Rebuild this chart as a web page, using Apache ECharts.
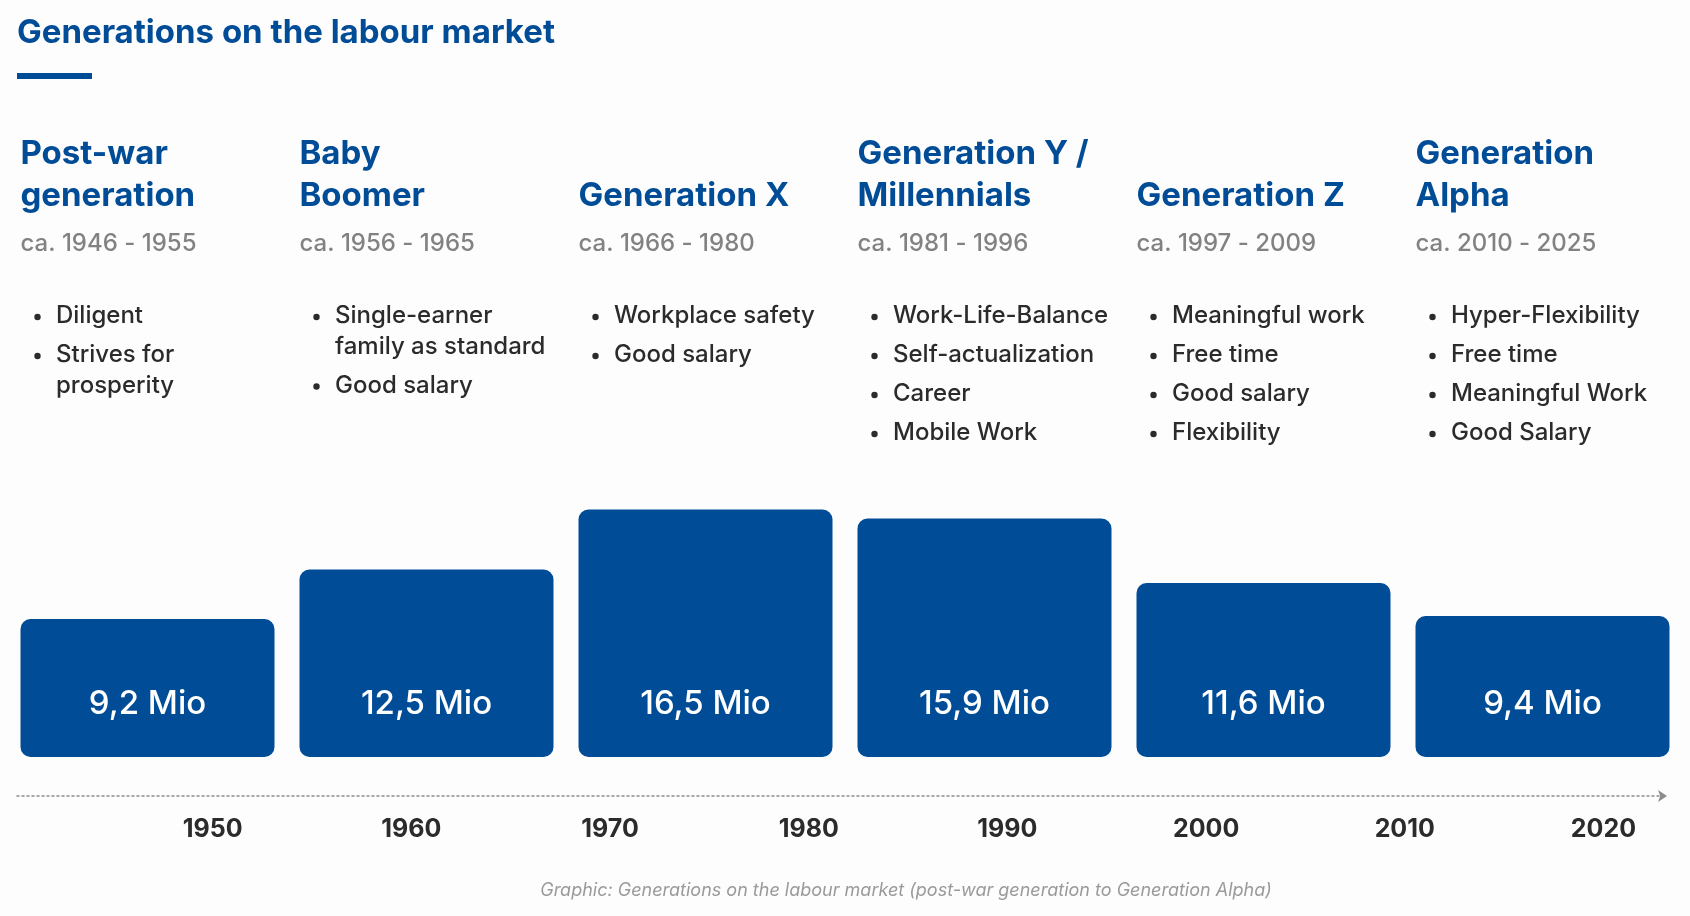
<!DOCTYPE html>
<html>
<head>
<meta charset="utf-8">
<title>Generations on the labour market</title>
<script src="https://cdn.jsdelivr.net/npm/echarts@6.0.0/dist/echarts.min.js"></script>
<style>
  html, body { margin: 0; padding: 0; background: #fdfdfd; }
  #chart { width: 1690px; height: 916px; }
</style>
</head>
<body>
<div id="chart"></div>
<script>
// data
const generations = ['Post-war\ngeneration', 'Baby\nBoomer', 'Generation X', 'Generation Y /\nMillennials', 'Generation Z', 'Generation\nAlpha'];
const periods = ['ca. 1946 - 1955', 'ca. 1956 - 1965', 'ca. 1966 - 1980', 'ca. 1981 - 1996', 'ca. 1997 - 2009', 'ca. 2010 - 2025'];
const traits = [
    ['Diligent', 'Strives for\nprosperity'],
    ['Single-earner\nfamily as standard', 'Good salary'],
    ['Workplace safety', 'Good salary'],
    ['Work-Life-Balance', 'Self-actualization', 'Career', 'Mobile Work'],
    ['Meaningful work', 'Free time', 'Good salary', 'Flexibility'],
    ['Hyper-Flexibility', 'Free time', 'Meaningful Work', 'Good Salary']
];
const workforce = [9.2, 12.5, 16.5, 15.9, 11.6, 9.4]; // Mio
const yearTicks = [1950, 1960, 1970, 1980, 1990, 2000, 2010, 2020];

const blue = '#004c97';
const dark = '#2b2b2b';
const grey = '#828282';
const fontFamily = 'Inter, "Noto Sans", sans-serif';

// Spaltenraster: gleiche Breite wie die Balken
const colLeft = 20.5;
const colStep = 279;

var myChart = echarts.init(document.getElementById('chart'));

// Texte oben: Name, Zeitraum, Stichpunkte
let graphics = [
    {
        type: 'rect',
        shape: { x: 17, y: 73, width: 75, height: 6 },
        style: { fill: blue }
    },
    {
        type: 'text',
        style: {
            text: 'Graphic: Generations on the labour market (post-war generation to Generation Alpha)',
            x: 906, y: 891,
            align: 'center', verticalAlign: 'middle',
            font: 'italic 400 18px ' + fontFamily,
            fill: '#9a9a9a'
        }
    }
];

generations.forEach(function (name, i) {
    let x = colLeft + colStep * i;
    graphics.push({
        type: 'text',
        style: {
            text: name, x: x, y: 217,
            verticalAlign: 'bottom',
            font: '700 33px ' + fontFamily,
            lineHeight: 42,
            fill: blue
        }
    });
    graphics.push({
        type: 'text',
        style: {
            text: periods[i], x: x, y: 244,
            verticalAlign: 'middle',
            font: '500 24px ' + fontFamily,
            fill: grey
        }
    });
    let y = 316; // Mitte der ersten Zeile
    traits[i].forEach(function (t) {
        let lines = t.split('\n').length;
        graphics.push({
            type: 'circle',
            shape: { cx: x + 17, cy: y + 1, r: 3.2 },
            style: { fill: dark }
        });
        graphics.push({
            type: 'text',
            style: {
                text: t, x: x + 35.5, y: y - 15.25,
                verticalAlign: 'top',
                font: '500 24px ' + fontFamily,
                lineHeight: 30.5,
                fill: dark
            }
        });
        y += 39 + (lines - 1) * 30.5;
    });
});

let option = {
    backgroundColor: '#fdfdfd',
    animation: false,
    title: {
        text: 'Generations on the labour market',
        left: 12,
        top: 12,
        textStyle: {
            fontFamily: fontFamily,
            fontSize: 33,
            fontWeight: 700,
            color: blue
        }
    },
    grid: [
        // Balken
        { left: 8, right: 8, top: 457, bottom: 159 },
        // Zeitachse
        { left: 17, right: 23, top: 760, bottom: 120 }
    ],
    xAxis: [
        {
            gridIndex: 0,
            type: 'category',
            data: generations,
            show: false
        },
        {
            gridIndex: 1,
            type: 'value',
            min: 1940.15,
            max: 2023.2,
            splitLine: { show: false },
            axisTick: { show: false },
            axisLine: {
                show: true,
                symbol: ['none', 'arrow'],
                symbolSize: [9, 9],
                lineStyle: {
                    color: '#8c8c8c',
                    width: 1.5,
                    type: [2, 3]
                }
            },
            axisLabel: {
                customValues: yearTicks,
                margin: 21,
                fontFamily: fontFamily,
                fontSize: 25,
                fontWeight: 700,
                color: dark,
                formatter: function (v) {
                    return String(v);
                }
            }
        }
    ],
    yAxis: [
        { gridIndex: 0, type: 'value', min: 0, max: 20, show: false },
        { gridIndex: 1, type: 'value', min: 0, max: 1, show: false }
    ],
    series: [
        {
            type: 'bar',
            xAxisIndex: 0,
            yAxisIndex: 0,
            data: workforce,
            barWidth: 254,
            itemStyle: {
                color: blue,
                borderRadius: 10
            },
            label: {
                show: true,
                position: 'insideBottom',
                distance: 36,
                fontFamily: fontFamily,
                fontSize: 33,
                fontWeight: 500,
                color: '#fff',
                formatter: function (p) {
                    return p.value.toFixed(1).replace('.', ',') + ' Mio';
                }
            }
        }
    ],
    graphic: graphics
};

myChart.setOption(option);
</script>
</body>
</html>
